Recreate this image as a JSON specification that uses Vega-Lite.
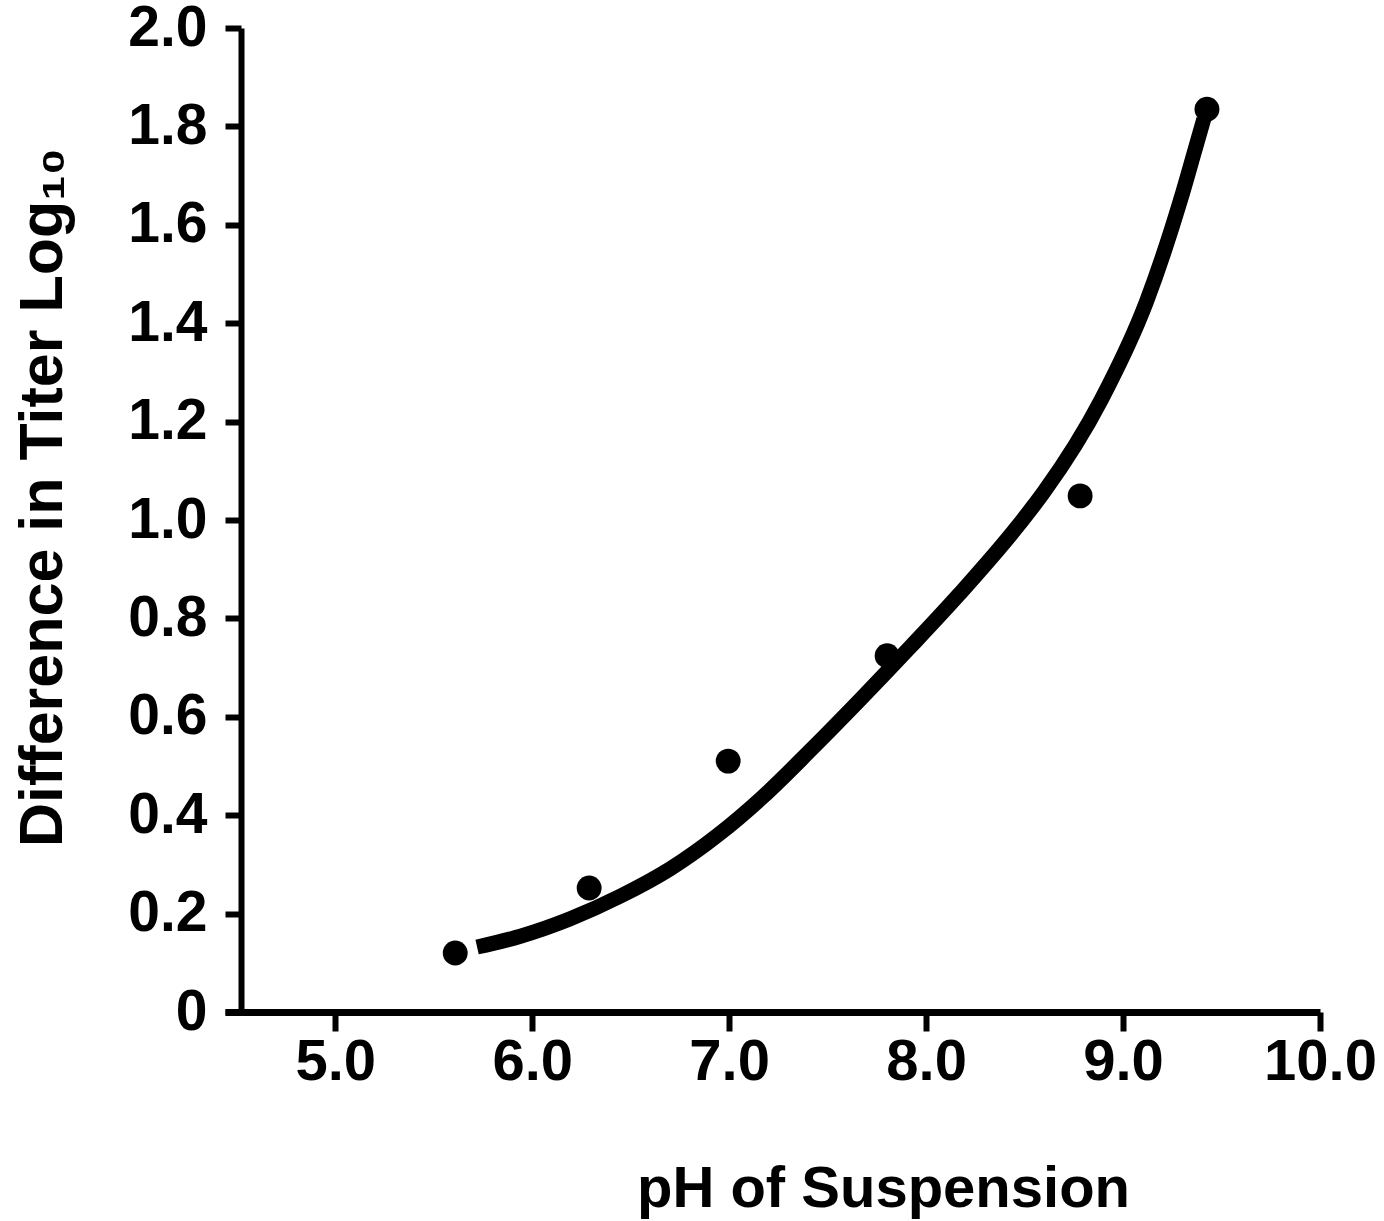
{
  "$schema": "https://vega.github.io/schema/vega-lite/v6.json",
  "autosize": {"type": "none"},
  "padding": {"left": 225, "top": 28, "right": 64, "bottom": 209},
  "width": 1095,
  "height": 984,
  "background": "white",
  "config": {
    "view": {"stroke": null},
    "font": "Liberation Sans",
    "axis": {"grid": false, "domainColor": "black", "tickColor": "black", "labelColor": "black", "titleColor": "black", "labelFont": "Liberation Sans", "titleFont": "Liberation Sans", "labelFontWeight": "bold", "titleFontWeight": "bold"}
  },
  "datasets": {
    "points": [
      {"ph": 5.609, "diff": 0.120},
      {"ph": 6.289, "diff": 0.252},
      {"ph": 6.995, "diff": 0.510},
      {"ph": 7.802, "diff": 0.724},
      {"ph": 8.782, "diff": 1.049},
      {"ph": 9.426, "diff": 1.835}
    ],
    "curve": [
      {"ph": 5.72, "diff": 0.132},
      {"ph": 5.94, "diff": 0.154},
      {"ph": 6.19, "diff": 0.189},
      {"ph": 6.45, "diff": 0.236},
      {"ph": 6.70, "diff": 0.291},
      {"ph": 6.95, "diff": 0.362},
      {"ph": 7.17, "diff": 0.437},
      {"ph": 7.42, "diff": 0.535},
      {"ph": 7.67, "diff": 0.637},
      {"ph": 7.92, "diff": 0.742},
      {"ph": 8.17, "diff": 0.850},
      {"ph": 8.47, "diff": 0.990},
      {"ph": 8.60, "diff": 1.058},
      {"ph": 8.89, "diff": 1.245},
      {"ph": 9.12, "diff": 1.445},
      {"ph": 9.29, "diff": 1.648},
      {"ph": 9.365, "diff": 1.752},
      {"ph": 9.41, "diff": 1.815}
    ]
  },
  "layer": [
    {
      "data": {"name": "curve"},
      "mark": {"type": "line", "color": "black", "strokeWidth": 15, "strokeCap": "butt", "interpolate": "monotone"},
      "encoding": {
        "x": {"field": "ph", "type": "quantitative", "scale": {"domain": [4.44, 10], "nice": false, "zero": false},
          "axis": {"title": "pH of Suspension", "values": [5, 6, 7, 8, 9, 10], "format": ".1f", "domainWidth": 7, "tickWidth": 6, "tickSize": 19, "labelFontSize": 58, "labelPadding": 2, "labelFlush": false, "titleFontSize": 58, "titleX": 658, "titleY": 194, "titleAnchor": null, "titleAlign": "center", "titleBaseline": "alphabetic"}},
        "y": {"field": "diff", "type": "quantitative", "scale": {"domain": [0, 2], "nice": false},
          "axis": {"title": "Difference in Titer Log₁₀", "values": [0, 0.2, 0.4, 0.6, 0.8, 1.0, 1.2, 1.4, 1.6, 1.8, 2.0], "labelExpr": "datum.value == 0 ? '0' : format(datum.value, '.1f')", "offset": -16, "domainWidth": 6, "tickWidth": 6, "tickSize": 16, "labelFontSize": 57, "labelPadding": 18, "labelFlush": false, "titleFontSize": 61, "titleX": -198, "titleY": 469, "titleAngle": -90, "titleAlign": "center", "titleBaseline": "middle"}}
      }
    },
    {
      "data": {"name": "points"},
      "mark": {"type": "circle", "color": "black", "opacity": 1, "size": 620},
      "encoding": {
        "x": {"field": "ph", "type": "quantitative"},
        "y": {"field": "diff", "type": "quantitative"}
      }
    }
  ]
}
